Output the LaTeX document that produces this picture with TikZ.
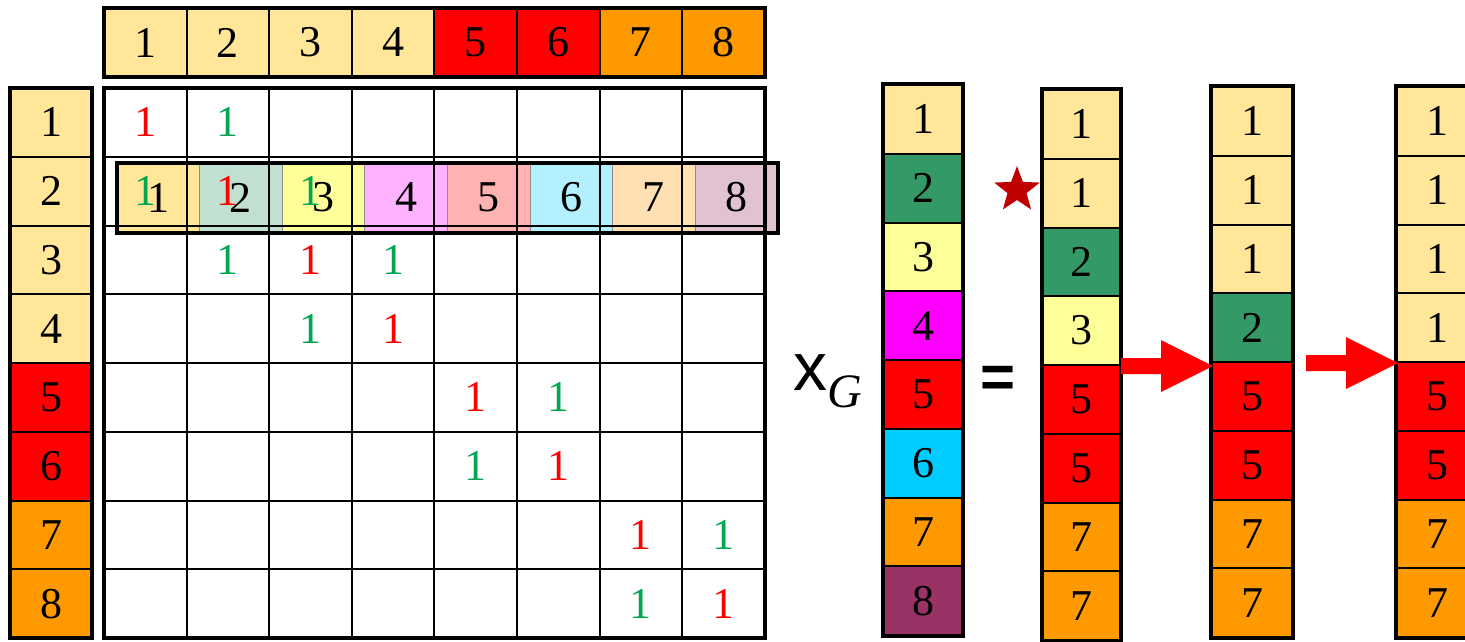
\documentclass[tikz,border=0pt]{standalone}
\usepackage{fontspec}
\setmainfont{Liberation Serif}
\setsansfont{Liberation Sans}
\usetikzlibrary{shapes.geometric}

\definecolor{lightyel}{HTML}{FFE699}
\definecolor{tealgreen}{HTML}{339966}
\definecolor{paleyel}{HTML}{FFFF99}
\definecolor{hotpink}{HTML}{FF00FF}
\definecolor{skyblue}{HTML}{00CCFF}
\definecolor{amber}{HTML}{FF9900}
\definecolor{plum}{HTML}{993366}
\definecolor{onegreen}{HTML}{00A651}
\definecolor{starred}{HTML}{C00000}

\begin{document}
\begin{tikzpicture}[x=1pt, y=-1pt,
    cell/.style={draw, line width=2pt, inner sep=0pt, minimum height=68.75pt,
                 font=\rmfamily\fontsize{44}{48}\selectfont},
    ovcell/.style={draw=black!45, line width=1pt, inner sep=0pt, minimum width=82.6pt,
                   minimum height=69pt, font=\rmfamily\fontsize{44}{48}\selectfont},
    entry/.style={inner sep=0pt, font=\rmfamily\fontsize{44}{48}\selectfont},
    gridline/.style={line width=2pt},
    frame/.style={line width=4pt},
    blockarrow/.style={fill=red}]
        \useasboundingbox (0,0) rectangle (1465,641);
        \clip (0,0) rectangle (1465,641);

        % column and row labels
        \foreach \c [count=\i] in {lightyel,lightyel,lightyel,lightyel,red,red,amber,amber}
            \node[cell, fill=\c, minimum width=82.6pt] (top-\i) at ({104+(\i-0.5)*82.6}, 42.5) {\i};
        \draw[frame] (104,8) rectangle (765,77);
        \foreach \c [count=\i] in {lightyel,lightyel,lightyel,lightyel,red,red,amber,amber}
            \node[cell, fill=\c, minimum width=82pt] (row-\i) at (51, {88+(\i-0.5)*68.75}) {\i};
        \draw[frame] (10,88) rectangle (92,638);

        % shifted row laid over the matrix
        \foreach \c [count=\i] in {lightyel,tealgreen!30,paleyel,hotpink!30,red!30,skyblue!30,amber!30,plum!30}
            \node[ovcell, fill=\c] (ov-\i) at ({117+(\i-0.5)*82.6}, 197.5) {\i};

        % matrix
        \foreach \i in {1,...,7} {
            \draw[gridline] ({104+\i*82.6},88) -- ++(0,550);
            \draw[gridline] (104,{88+\i*68.75}) -- ++(661,0);
        }
        \draw[frame] (104,88) rectangle (765,638);
        \foreach \r/\c/\col in {1/1/red,1/2/onegreen,2/1/onegreen,2/2/red,2/3/onegreen,
                3/2/onegreen,3/3/red,3/4/onegreen,4/3/onegreen,4/4/red,5/5/red,5/6/onegreen,
                6/5/onegreen,6/6/red,7/7/red,7/8/onegreen,8/7/onegreen,8/8/red}
            \node[entry, text=\col] (m-\r-\c) at ({104+(\c-0.5)*82.6}, {88+(\r-0.5)*68.75}) {1};
        \draw[frame] (ov-1.north west) rectangle (ov-8.south east);

        % x_G
        \node[anchor=base west, inner sep=0pt] (xlbl) at (793,390)
            {\fontsize{68}{70}\selectfont\sffamily x\raisebox{-17pt}{\fontsize{48}{50}\selectfont\rmfamily\itshape G}};
        \foreach \c [count=\i] in {lightyel,tealgreen,paleyel,hotpink,red,skyblue,amber,plum}
            \node[cell, fill=\c, minimum width=78pt] (xg-\i) at (923, {85+(\i-0.5)*68.75}) {\i};
        \draw[frame] (xg-1.north west) rectangle (xg-8.south east);

        \node[font=\fontsize{60}{60}\selectfont\sffamily\bfseries, inner sep=0pt] (eq) at (998,382) {=};
        \node[star, star points=5, star point ratio=2.4, fill=starred, minimum size=48pt, inner sep=0pt] (mark) at (1017,190) {};

        % results
        \foreach \n/\c [count=\i] in {1/lightyel,1/lightyel,2/tealgreen,3/paleyel,5/red,5/red,7/amber,7/amber}
            \node[cell, fill=\c, minimum width=77pt] (ra-\i) at (1081.5, {90+(\i-0.5)*68.75}) {\n};
        \draw[frame] (ra-1.north west) rectangle (ra-8.south east);
        \foreach \n/\c [count=\i] in {1/lightyel,1/lightyel,1/lightyel,2/tealgreen,5/red,5/red,7/amber,7/amber}
            \node[cell, fill=\c, minimum width=80pt] (rb-\i) at (1252, {87+(\i-0.5)*68.75}) {\n};
        \draw[frame] (rb-1.north west) rectangle (rb-8.south east);
        \foreach \n/\c [count=\i] in {1/lightyel,1/lightyel,1/lightyel,1/lightyel,5/red,5/red,7/amber,7/amber}
            \node[cell, fill=\c, minimum width=80pt] (rc-\i) at (1437, {87+(\i-0.5)*68.75}) {\n};
        \draw[frame] (rc-1.north west) rectangle (rc-8.south east);

        \fill[blockarrow] (ra-4.south east) ++(0,-8) -- ++(40,0) -- ++(0,-18) -- ++(52,26)
            -- ++(-52,26) -- ++(0,-18) -- ++(-40,0) -- cycle;
        \fill[blockarrow] ([xshift=13pt]rb-4.south east) ++(0,-8) -- ++(40,0) -- ++(0,-18) -- ++(52,26)
            -- ++(-52,26) -- ++(0,-18) -- ++(-40,0) -- cycle;
    \end{tikzpicture}
\end{document}
